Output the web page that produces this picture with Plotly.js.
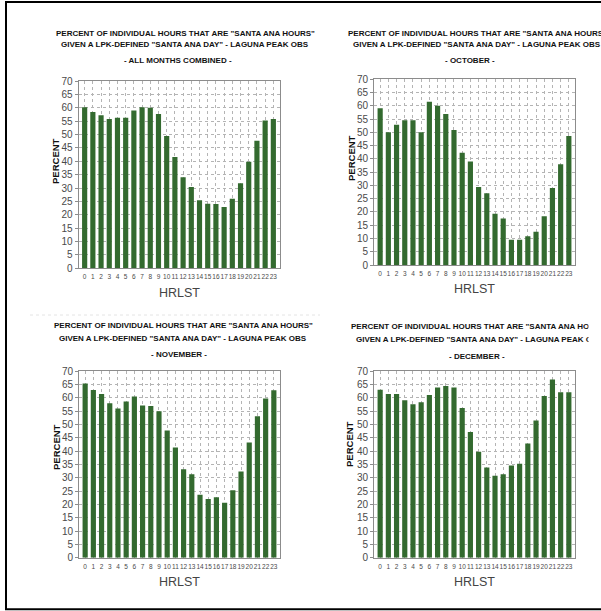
<!DOCTYPE html>
<html>
<head>
<meta charset="utf-8">
<script src="https://cdn.plot.ly/plotly-3.0.1.min.js"></script>
<style>
  html, body { margin: 0; padding: 0; background: #fff; }
  #chart { width: 601px; height: 611px; }
</style>
</head>
<body>
<div id="chart"></div>
<script>
// Hour of day (local standard time)
const hours = [0, 1, 2, 3, 4, 5, 6, 7, 8, 9, 10, 11, 12, 13, 14, 15, 16, 17, 18, 19, 20, 21, 22, 23];

// Percent of hours flagged as Santa Ana hours, per hour of day
const allMonths = [60.2, 58.4, 57.2, 55.8, 56.3, 56.3, 59.0, 60.2, 60.0, 57.7, 49.4, 41.6,
                   34.0, 30.4, 25.4, 24.1, 24.0, 22.9, 26.0, 31.8, 39.8, 47.7, 55.2, 55.8];
const october = [59.1, 50.0, 52.9, 54.6, 54.6, 50.0, 61.5, 60.0, 56.9, 50.9, 42.3, 39.0,
                 29.4, 27.0, 19.3, 17.5, 9.5, 9.5, 10.8, 12.5, 18.4, 29.0, 38.0, 48.6];
const november = [65.3, 62.9, 61.4, 57.9, 55.9, 58.6, 60.4, 57.1, 56.9, 54.9, 47.7, 41.3,
                  33.2, 31.3, 23.6, 22.0, 22.7, 20.6, 25.3, 32.3, 43.2, 53.0, 59.7, 62.8];
const december = [63.0, 61.4, 61.4, 59.0, 57.5, 58.3, 61.0, 63.8, 64.4, 63.8, 56.1, 47.1,
                  39.7, 33.8, 30.7, 31.3, 34.6, 35.2, 42.8, 51.4, 60.6, 66.8, 62.0, 62.0];

const titleLine1 = 'PERCENT OF INDIVIDUAL HOURS THAT ARE "SANTA ANA HOURS"';
const titleLine2 = 'GIVEN A LPK-DEFINED "SANTA ANA DAY" - LAGUNA PEAK OBS';
const subtitles = ['- ALL MONTHS COMBINED -', '- OCTOBER -', '- NOVEMBER -', '- DECEMBER -'];
const seriesList = [allMonths, october, november, december];
const yTitle = 'PERCENT';
const xTitle = 'HRLST';

const W = 601, H = 611;
const px = v => v / W;
const py = v => 1 - v / H;

const SANS = '"Liberation Sans", Arial, sans-serif';
const BAR = '#336a2f';
const AXIS = '#8c8c8c';
const GRID = '#b4b4b4';
const LABEL = '#4a4a4a';

// Panel frames in pixels: plot box plus label anchors
const panels = [
  { x0: 78.5, x1: 279.5, y0: 81,   y1: 268.3, tx: 185, t1: 33.3,  t2: 44.3,  st: 61,    sx: 177.5, hx: 179.5, hy: 293.3, vx: 55,  vy: 161 },
  { x0: 374,  x1: 575,   y0: 79.3, y1: 265,   tx: 477, t1: 33.3,  t2: 44.3,  st: 61,    sx: 469.5, hx: 474,   hy: 289.3, vx: 351, vy: 158 },
  { x0: 79,   x1: 280,   y0: 371,  y1: 557.7, tx: 183, t1: 325.7, t2: 338.3, st: 354.3, sx: 179,   hx: 179.5, hy: 581.7, vx: 56,  vy: 447 },
  { x0: 374,  x1: 575,   y0: 371,  y1: 557.7, tx: 480, t1: 326,   t2: 339.3, st: 356,   sx: 477,   hx: 474,   hy: 581.7, vx: 349, vy: 444 }
];

const data = [];
const layout = {
  width: W, height: H,
  margin: { l: 0, r: 0, t: 0, b: 0, pad: 0 },
  paper_bgcolor: '#fff',
  plot_bgcolor: '#fff',
  showlegend: false,
  bargap: 0.37,
  annotations: [],
  shapes: []
};

panels.forEach((p, i) => {
  const n = i + 1;          // bottom x / left y
  const m = i + 5;          // top x / right y
  const xk = n === 1 ? 'x' : 'x' + n;
  const yk = n === 1 ? 'y' : 'y' + n;
  const xDom = [px(p.x0), px(p.x1)];
  const yDom = [py(p.y1), py(p.y0)];

  data.push({
    type: 'bar', x: hours, y: seriesList[i],
    xaxis: xk, yaxis: yk,
    marker: { color: BAR, line: { width: 0 } },
    hoverinfo: 'x+y'
  });

  layout['xaxis' + (n === 1 ? '' : n)] = {
    domain: xDom, anchor: yk, range: [-0.75, 23.75],
    tickmode: 'linear', tick0: 0, dtick: 1, tickangle: 0,
    ticks: '', showline: true, linecolor: AXIS, linewidth: 1, mirror: true,
    showgrid: true, gridcolor: GRID, griddash: 'dot', gridwidth: 1,
    zeroline: false, fixedrange: true,
    tickfont: { family: SANS, size: 6.5, color: LABEL },
    ticklabelstandoff: 2
  };
  layout['xaxis' + m] = {
    domain: xDom, anchor: yk, overlaying: xk, side: 'top', range: [-0.75, 23.75],
    tickmode: 'linear', tick0: 0, dtick: 1,
    ticks: 'inside', ticklen: 4, tickcolor: '#777', tickwidth: 1,
    showticklabels: false, showline: false, showgrid: false, zeroline: false, fixedrange: true
  };
  layout['yaxis' + (n === 1 ? '' : n)] = {
    domain: yDom, anchor: xk, range: [0, 70],
    tickmode: 'linear', tick0: 0, dtick: 5,
    ticks: 'outside', ticklen: 3, tickcolor: AXIS,
    showline: true, linecolor: AXIS, linewidth: 1, mirror: true,
    showgrid: true, gridcolor: GRID, griddash: 'dot', gridwidth: 1,
    zeroline: false, fixedrange: true,
    tickfont: { family: SANS, size: 10, color: LABEL }
  };
  layout['yaxis' + m] = {
    domain: yDom, anchor: xk, overlaying: yk, side: 'right', range: [0, 70],
    tickmode: 'linear', tick0: 0, dtick: 5,
    ticks: 'outside', ticklen: 3, tickcolor: AXIS,
    showline: false, showgrid: false, zeroline: false, fixedrange: true,
    tickfont: { family: SANS, size: 10, color: LABEL }
  };

  const bold = { family: SANS, size: 8, color: '#111' };
  layout.annotations.push(
    { xref: 'paper', yref: 'paper', x: px(p.tx), y: py(p.t1), text: '<b>' + titleLine1 + '</b>',
      showarrow: false, xanchor: 'center', yanchor: 'middle', font: bold },
    { xref: 'paper', yref: 'paper', x: px(p.tx), y: py(p.t2), text: '<b>' + titleLine2 + '</b>',
      showarrow: false, xanchor: 'center', yanchor: 'middle', font: bold },
    { xref: 'paper', yref: 'paper', x: px(p.sx), y: py(p.st), text: '<b>' + subtitles[i] + '</b>',
      showarrow: false, xanchor: 'center', yanchor: 'middle', font: bold },
    { xref: 'paper', yref: 'paper', x: px(p.vx), y: py(p.vy), text: '<b>' + yTitle + '</b>',
      textangle: -90, showarrow: false, xanchor: 'center', yanchor: 'middle',
      font: { family: SANS, size: 9.5, color: '#111' } },
    { xref: 'paper', yref: 'paper', x: px(p.hx), y: py(p.hy), text: xTitle,
      showarrow: false, xanchor: 'center', yanchor: 'middle',
      font: { family: SANS, size: 12.5, color: '#444' } }
  );
});

// The lower-right header is cut off at the edge of its frame
layout.annotations.push({
  xref: 'paper', yref: 'paper', x: px(588), y: py(316), xanchor: 'left', yanchor: 'top',
  text: ' ', width: 20, height: 32, bgcolor: '#fff', showarrow: false
});

// Page frame and faint separator between the upper and lower rows
layout.shapes.push(
  { type: 'line', xref: 'paper', yref: 'paper', x0: px(6), x1: px(6), y0: py(2), y1: py(609.5),
    line: { color: '#000', width: 2 } },
  { type: 'line', xref: 'paper', yref: 'paper', x0: px(5), x1: px(W + 2), y0: py(2), y1: py(2),
    line: { color: '#000', width: 2 } },
  { type: 'line', xref: 'paper', yref: 'paper', x0: px(5), x1: px(W + 2), y0: py(609.3), y1: py(609.3),
    line: { color: '#000', width: 2 } },
  { type: 'line', xref: 'paper', yref: 'paper', x0: px(30), x1: px(320), y0: py(315), y1: py(315),
    line: { color: '#e4e4e4', width: 1, dash: 'dot' } }
);

Plotly.newPlot('chart', data, layout, { displayModeBar: false, staticPlot: true });
</script>
</body>
</html>
